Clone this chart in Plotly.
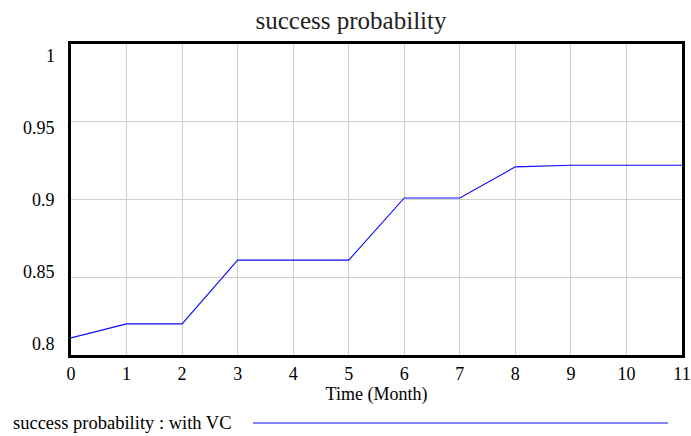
"""
success probability : with VC
"""
import plotly.graph_objects as go

# Datos
meses = [0, 1, 2, 3, 4, 5, 6, 7, 8, 9, 10, 11]
prob_exito = [0.811, 0.820, 0.820, 0.861, 0.861, 0.861, 0.901, 0.901, 0.921, 0.922, 0.922, 0.922]
y_ticks = [0.8, 0.85, 0.9, 0.95, 1.0]
y_tick_text = ["0.8", "0.85", "0.9", "0.95", "1"]

FUENTE = "Liberation Serif, Times New Roman, serif"
COLOR_LINEA = "#0a0aff"
COLOR_GRID = "#cfcfcf"

fig = go.Figure(go.Scatter(
    x=meses,
    y=prob_exito,
    mode="lines",
    line=dict(color=COLOR_LINEA, width=1.1),
    showlegend=False,
))

fig.update_layout(
    width=691,
    height=436,
    margin=dict(l=71, r=9, t=44, b=81, autoexpand=False),
    paper_bgcolor="white",
    plot_bgcolor="white",
    font=dict(family=FUENTE, size=18, color="black"),
    title=dict(
        text="success probability",
        xref="container", yref="container",
        x=0.508, xanchor="center",
        y=1 - 20 / 436, yanchor="middle",
        font=dict(family=FUENTE, size=25, color="#222"),
    ),
)

fig.update_xaxes(
    range=[0, 11],
    tickvals=meses,
    showgrid=True, gridcolor=COLOR_GRID, gridwidth=1,
    showline=True, linecolor="black", linewidth=2.5, mirror=True,
    ticks="", ticklabelstandoff=1,
    zeroline=False, automargin=False,
    title=dict(text="Time (Month)", font=dict(size=18), standoff=1),
)

fig.update_yaxes(
    range=[0.8, 1.0],
    tickvals=y_ticks,
    showticklabels=False,
    showgrid=True, gridcolor=COLOR_GRID, gridwidth=1,
    showline=True, linecolor="black", linewidth=2.5, mirror=True,
    ticks="", zeroline=False, automargin=False,
)

# Etiquetas del eje Y: Vensim las reparte un poco hacia dentro en los extremos
desplaz_etiquetas = [11, 5, 0, -6, -12]
for val, txt, dy in zip(y_ticks, y_tick_text, desplaz_etiquetas):
    fig.add_annotation(
        text=txt, xref="paper", yref="y",
        x=0, y=val, xanchor="right", yanchor="middle",
        xshift=-14, yshift=dy, showarrow=False,
        font=dict(family=FUENTE, size=18, color="black"),
    )

# Leyenda al estilo Vensim: texto + linea larga
fig.add_annotation(
    text="success probability : with VC",
    xref="paper", yref="paper",
    x=(11 - 71) / 611, y=-68 / 311,
    xanchor="left", yanchor="middle",
    showarrow=False,
    font=dict(family=FUENTE, size=18.5, color="black"),
)
fig.add_shape(
    type="line",
    xref="paper", yref="paper",
    x0=(253 - 71) / 611, x1=(668 - 71) / 611,
    y0=-68 / 311, y1=-68 / 311,
    line=dict(color=COLOR_LINEA, width=1.1),
)

# quitar el margen por defecto del body para que la figura quede en (0, 0)
fig.write_html(
    "out.html",
    config={"displayModeBar": False},
    post_script="document.body.style.margin='0';",
)
